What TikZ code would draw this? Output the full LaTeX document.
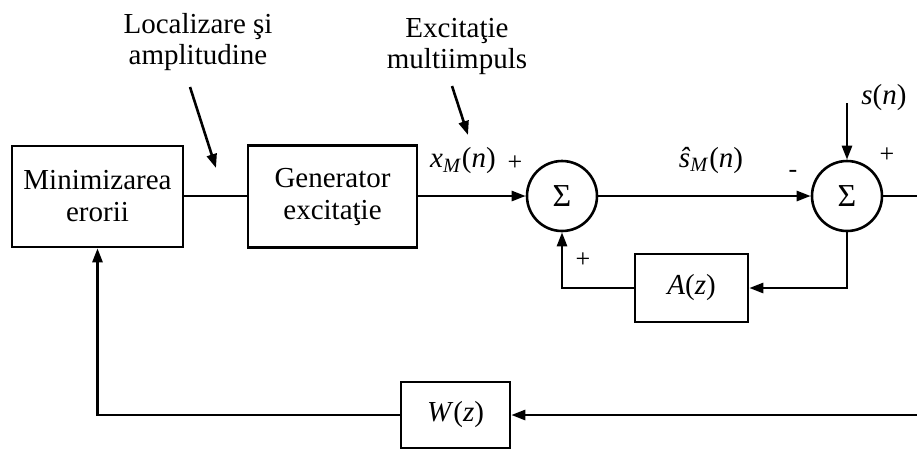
\documentclass[tikz,border=0pt]{standalone}
\usepackage{fontspec}
\setmainfont{Liberation Serif}
\usetikzlibrary{arrows.meta}
\begin{document}
\begin{tikzpicture}[x=0.5pt,y=-0.5pt,
  every node/.style={font=\fontsize{14.5}{16}\selectfont},
  blockbox/.style={draw, line width=1.3pt, inner sep=0pt, align=center},
  sumnode/.style={draw, circle, line width=1.3pt, minimum size=35pt, inner sep=0pt,
    font=\fontsize{16}{18}\selectfont},
  wire/.style={line width=1.3pt},
  arr/.style={wire, -{Triangle[length=7pt,width=5pt]}},
  note/.style={align=center, font=\fontsize{14.5}{15.5}\selectfont},
  sign/.style={inner sep=0pt, font=\fontsize{13}{15}\selectfont}]
\useasboundingbox (0,0) rectangle (917,452);

% blocks
\node[blockbox, minimum width=85.5pt, minimum height=50.5pt] (min) at (97.5,196.5) {Minimizarea\\erorii};
\node[blockbox, minimum width=84.5pt, minimum height=51pt] (gen) at (332.5,196.5) {Generator\\excitaţie};
\node[sumnode] (s1) at (562,196) {Σ};
\node[sumnode] (s2) at (847,196) {Σ};
\node[blockbox, minimum width=56.5pt, minimum height=34pt] (A) at (691.5,288) {\textit{A}(\textit{z})};
\node[blockbox, minimum width=54.5pt, minimum height=33pt] (W) at (455.5,415) {\textit{W}(\textit{z})};

% free ends
\coordinate (out) at (917,196);
\coordinate (sin) at (847,103);
\coordinate (win) at (917,415);
\coordinate (la1) at (190,87);
\coordinate (la2) at (216,168);
\coordinate (ex1) at (452,86);
\coordinate (ex2) at (468,135);

% signal paths
\draw[wire] (min.east |- 0,196) -- (gen.west |- 0,196);
\draw[arr] (gen.east |- 0,196) -- (s1.west);
\draw[arr] (s1.east) -- (s2.west);
\draw[wire] (s2.east) -- (out);
\draw[arr] (sin) -- (s2.north);
\draw[arr] (s2.south) |- (A.east);
\draw[arr] (A.west) -| (s1.south);
\draw[arr] (win) -- (W.east);
\draw[arr] (W.west) -| (min.south);

% annotations
\node[note] (loc) at (198,42) {Localizare şi\\amplitudine};
\draw[arr] (la1) -- (la2);
\node[note] (exc) at (457,46) {Excitaţie\\multiimpuls};
\draw[arr] (ex1) -- (ex2);

% signal labels
\node (xm) at (463,161) {\textit{x}\textsubscript{\textit{M}}(\textit{n})};
\node (sm) at (711,160) {\textit{ŝ}\textsubscript{\textit{M}}(\textit{n})};
\node (sn) at (884,98) {\textit{s}(\textit{n})};

% signs
\node[sign] (p1) at (515,163) {+};
\node[sign] (p2) at (583,260) {+};
\node[sign] (m1) at (793,174) {-};
\node[sign] (p3) at (887,155) {+};
\end{tikzpicture}
\end{document}
